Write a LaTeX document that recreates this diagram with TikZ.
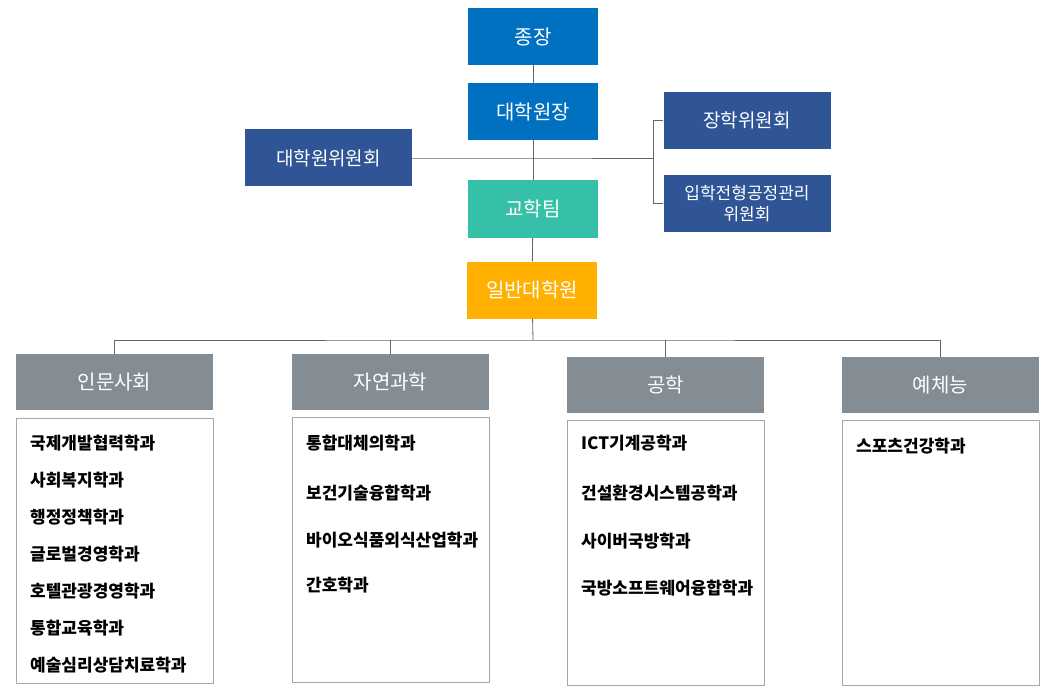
\documentclass[tikz,border=0pt]{standalone}
\usepackage{fontspec}
\setmainfont{Noto Sans CJK KR}
\usetikzlibrary{positioning}
\definecolor{topblue}{RGB}{0,112,192}
\definecolor{navy}{RGB}{47,85,151}
\definecolor{teal}{RGB}{55,192,168}
\definecolor{gold}{RGB}{255,176,0}
\definecolor{slate}{RGB}{132,140,148}
\tikzset{
  box/.style={minimum width=130pt, minimum height=57pt, text=white, inner sep=0pt, align=center,
    font=\fontsize{20}{24}\selectfont},
  side/.style={box, fill=navy, minimum width=167pt, font=\fontsize{19}{23}\selectfont},
  head/.style={box, fill=slate, minimum width=197pt, minimum height=56pt},
  list/.style={draw=gray!70, line width=0.8pt, minimum width=197pt, minimum height=265pt, inner sep=0pt},
  item/.style={anchor=west, inner sep=0pt, font=\fontsize{17}{20}\selectfont\bfseries},
  link/.style={draw=gray!80!black, line width=0.8pt}
}
\begin{document}
\begin{tikzpicture}[x=1pt,y=-1pt]
    \useasboundingbox (0,0) rectangle (1054,695);

    % Top chain
    \node[box, fill=topblue] (chong) at (533,36.5) {종장};
    \node[box, fill=topblue] (wonjang) at (533,111.5) {대학원장};
    \node[box, fill=teal] (gyohak) at (533,209) {교학팀};
    \node[box, fill=gold] (ilban) at (532,290) {일반대학원};

    % Committees
    \node[side] (wiwon) at (328.5,158) {대학원위원회};
    \node[side] (janghak) at (747,120.5) {장학위원회};
    \node[side, font=\fontsize{17}{21}\selectfont] (iphak) at (747,203.5) {입학전형공정관리\\위원회};

    % Connectors
    \coordinate (hub) at (533,158);
    \coordinate (fork) at (653,158);
    \draw[link] (chong) -- (wonjang);
    \draw[link] (wonjang) -- (gyohak);
    \draw[link] (gyohak) -- (ilban);
    \draw[link] (wiwon.east) -- (hub) -- (fork);
    \draw[link] (fork) |- (janghak.west);
    \draw[link] (fork) |- (iphak.west);

    % Divisions
    \node[head] (inmun) at (114.5,382) {인문사회};
    \node[head] (jayeon) at (390.5,382) {자연과학};
    \node[head] (gonghak) at (665.5,385) {공학};
    \node[head] (yeche) at (940.5,385) {예체능};
    \coordinate (bus) at (533,340);
    \draw[link] (ilban) -- (bus);
    \draw[link] (inmun.north) |- (bus) -| (yeche.north);
    \draw[link] (jayeon.north) -- (jayeon.north |- bus);
    \draw[link] (gonghak.north) -- (gonghak.north |- bus);

    % Department lists
    \node[list] (inmunlist) at (114.5,550.5) {};
    \node[list] (jayeonlist) at (390.5,549.5) {};
    \node[list] (gonghaklist) at (665.5,552.5) {};
    \node[list] (yechelist) at (940.5,552.5) {};

    \foreach \txt [count=\i] in {국제개발협력학과,사회복지학과,행정정책학과,글로벌경영학과,호텔관광경영학과,통합교육학과,예술심리상담치료학과}
        \node[item] (inmun\i) at (30,406+37*\i) {\txt};
    \node[item] (jayeon1) at (306,443) {통합대체의학과};
    \node[item] (jayeon2) at (306,493) {보건기술융합학과};
    \node[item] (jayeon3) at (306,540) {바이오식품외식산업학과};
    \node[item] (jayeon4) at (306,585) {간호학과};
    \node[item] (gonghak1) at (581,443) {ICT기계공학과};
    \node[item] (gonghak2) at (581,493) {건설환경시스템공학과};
    \node[item] (gonghak3) at (581,541) {사이버국방학과};
    \node[item] (gonghak4) at (581,588) {국방소프트웨어융합학과};
    \node[item] (yeche1) at (856,446) {스포츠건강학과};

\end{tikzpicture}
\end{document}
